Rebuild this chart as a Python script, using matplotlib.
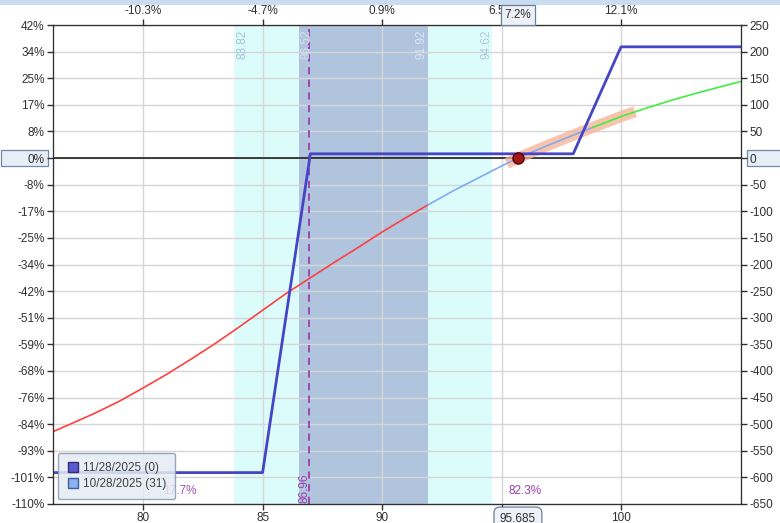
import matplotlib
matplotlib.use('Agg')
import matplotlib.pyplot as plt
import matplotlib.transforms as mtransforms
from matplotlib.lines import Line2D
from matplotlib.patches import Rectangle

plt.rcParams['font.family'] = ['Liberation Sans', 'DejaVu Sans']
plt.rcParams['font.size'] = 8.5

# price axis
x_min, x_max = 76.23, 105.02
x_ticks = [80, 85, 90, 95, 100]
x_top_labels = ['-10.3%', '-4.7%', '0.9%', '6.5%', '12.1%']

# P/L axis
y_ticks = [250, 200, 150, 100, 50, 0, -50, -100, -150, -200, -250, -300,
           -350, -400, -450, -500, -550, -600, -650]
y_pct_labels = ['42%', '34%', '25%', '17%', '8%', '0%', '-8%', '-17%', '-25%',
                '-34%', '-42%', '-51%', '-59%', '-68%', '-76%', '-84%',
                '-93%', '-101%', '-110%']

# expiration curve 11/28/2025 (0)
exp_x = [76.23, 85.0, 87.0, 98.0, 100.0, 105.02]
exp_y = [-591, -591, 8, 8, 209, 209]

# T+0 curve 10/28/2025 (31), coloured in three parts
t0_red_x = [76.23, 77, 78, 79, 80, 81, 82, 83, 84, 85, 86, 87, 88, 89, 90, 91, 91.92]
t0_red_y = [-514, -499, -479, -457, -432, -406, -378, -349, -318, -286, -254,
            -225, -196, -168, -139, -112, -88]
t0_blue_x = [91.92, 93, 94, 95, 95.685, 97, 98, 98.84]
t0_blue_y = [-88, -61, -38, -15, 0, 25, 43, 58]
t0_green_x = [98.84, 100, 101, 102, 103, 104, 105.02]
t0_green_y = [58, 78, 93, 107, 120, 132, 144]

# highlighted range on the T+0 curve
band_x = [95.22, 95.685, 97, 98, 98.84, 100, 100.59]
band_y = [-10, 0, 25, 43, 58, 78, 87]

# standard deviation ranges
sd2_lo, sd1_lo, sd1_hi, sd2_hi = 83.82, 86.52, 91.92, 94.62
breakeven = 86.96
price_now = 95.685
price_pct = '7.2%'
prob_below = '17.7%'
prob_above = '82.3%'

fig = plt.figure(figsize=(7.8, 5.23), dpi=100)
fig.patches.append(Rectangle((0, 1 - 5 / 523), 1, 5 / 523, transform=fig.transFigure,
                             fc='#c9dcf0', ec='none', zorder=-2))
ax = fig.add_axes([53 / 780, 19 / 523, 688 / 780, 479 / 523])
ax.set_xlim(x_min, x_max)
ax.set_ylim(-650, 250)

ax.axvspan(sd2_lo, sd2_hi, color='#dcfcfc', lw=0, zorder=0.1)
ax.axvspan(sd1_lo, sd1_hi, color='#b0c4de', lw=0, zorder=0.2)
ax.set_axisbelow(True)
ax.grid(color='#d6d6d6', lw=1)

ax.axhline(0, color='#202020', lw=1.2, zorder=2)

ax.plot(band_x, band_y, color='#f7b092', lw=8, alpha=0.75, solid_capstyle='butt', zorder=3)
ax.plot(t0_red_x, t0_red_y, color='#ff4040', lw=1.2, zorder=4)
ax.plot(t0_blue_x, t0_blue_y, color='#82aaf0', lw=1.2, zorder=4)
ax.plot(t0_green_x, t0_green_y, color='#40ee40', lw=1.2, zorder=4)
ax.axvline(breakeven, color='#9b3fae', lw=1.3, dashes=(4, 3), zorder=4.5)
ax.plot(exp_x, exp_y, color='#4545c6', lw=2, zorder=5)
ax.plot([price_now], [0], 'o', ms=8, mfc='#a01818', mec='#5a0000', zorder=6)

# band labels
top_tr = mtransforms.blended_transform_factory(ax.transData, ax.transAxes)
for xv, ha, col in [(sd2_lo, 'left', '#a8c0dc'), (sd1_lo, 'left', '#d4e0ee'),
                    (sd1_hi, 'right', '#dae6f2'), (sd2_hi, 'right', '#b0c8e0')]:
    dx = 2 if ha == 'left' else 0
    ax.text(xv, 0.99, f'{xv:.2f}', rotation=90, ha=ha, va='top', color=col,
            transform=mtransforms.offset_copy(top_tr, fig=fig, x=dx, y=0, units='dots'),
            zorder=7)
ax.text(breakeven, 0.0, f'{breakeven:.2f}', rotation=90, ha='right', va='bottom',
        color='#9b3fae', transform=mtransforms.offset_copy(top_tr, fig=fig, x=1, y=1, units='dots'),
        zorder=7)
ax.text(81.55, 0.027, prob_below, ha='center', va='center', color='#a050b8',
        transform=top_tr, zorder=3)
ax.text(96.0, 0.027, prob_above, ha='center', va='center', color='#9b3fae',
        transform=top_tr, zorder=3)

# axes styling
ax.set_xticks(x_ticks)
ax.set_yticks(y_ticks, y_pct_labels)
axr = ax.twinx()
axr.set_ylim(ax.get_ylim())
axr.set_yticks(y_ticks, [str(v) for v in y_ticks])
axt = ax.twiny()
axt.set_xlim(ax.get_xlim())
axt.set_xticks(x_ticks, x_top_labels)
for a in (ax, axr, axt):
    for s in a.spines.values():
        s.set_color('#303030')
    a.tick_params(length=4, width=1, color='#303030', labelcolor='#303030', pad=2)

# boxed zero labels on both sides
y0 = ax.transData.transform((x_min, 0))[1]
fig.patches.append(Rectangle((1, y0 - 8), 47, 16, transform=mtransforms.IdentityTransform(),
                             fc='#e8eef7', ec='#7088a8', lw=0.9, zorder=-1))
fig.patches.append(Rectangle((747, y0 - 8), 40, 16, transform=mtransforms.IdentityTransform(),
                             fc='#e8eef7', ec='#7088a8', lw=0.9, zorder=-1))

# boxed current price labels
fig.text(price_now, 1.0, price_pct, ha='center', va='center', color='#303030',
         transform=mtransforms.offset_copy(top_tr, fig=fig, x=0, y=10, units='dots'),
         bbox=dict(boxstyle='square,pad=0.3', fc='#eef2f8', ec='#6c7f99', lw=0.9), zorder=5)
fig.text(price_now, 0.0, f'{price_now}', ha='center', va='center', color='#303030',
         transform=mtransforms.offset_copy(top_tr, fig=fig, x=0, y=-15, units='dots'),
         bbox=dict(boxstyle='round,pad=0.5', fc='#eef2f8', ec='#6c7f99', lw=0.9), zorder=5)

handles = [Line2D([], [], marker='s', ls='none', ms=7, mfc='#5a5ad0', mec='#303070'),
           Line2D([], [], marker='s', ls='none', ms=7, mfc='#8ab0f0', mec='#4060a0')]
leg = ax.legend(handles, ['11/28/2025 (0)', '10/28/2025 (31)'], loc='lower left',
                fancybox=True, framealpha=0.85, facecolor='#e6ecf4', edgecolor='#8898b0',
                borderaxespad=0.4, handletextpad=0.3, labelcolor='#404040',
                handlelength=1, borderpad=0.8, labelspacing=0.3)
leg.set_zorder(8)

fig.savefig('out.png', dpi=100)
